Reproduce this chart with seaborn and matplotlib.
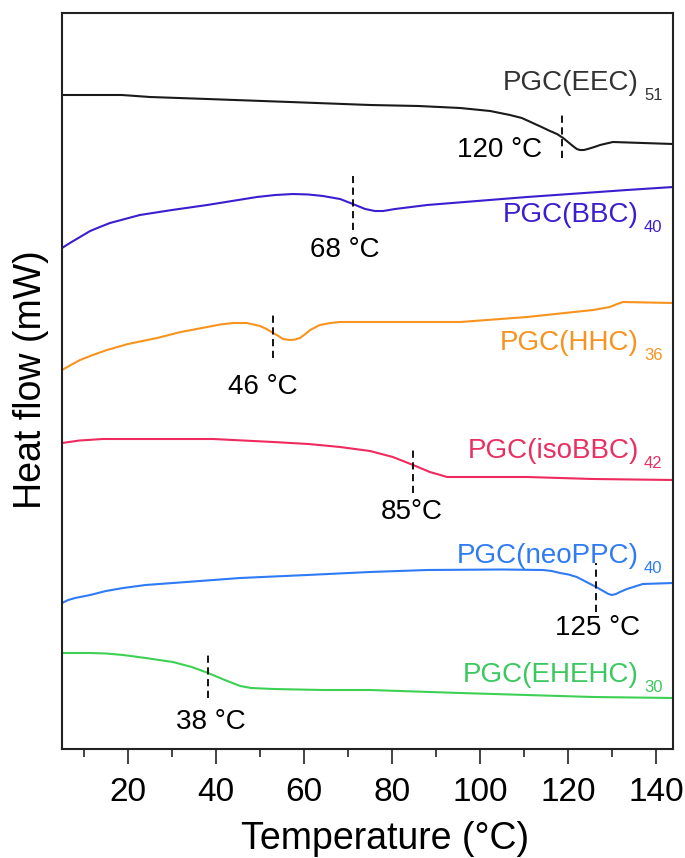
import numpy as np
import pandas as pd
import matplotlib
matplotlib.use("Agg")
import matplotlib.pyplot as plt
import seaborn as sns

# ---------------- data ----------------
names = ["PGC(EEC)", "PGC(BBC)", "PGC(HHC)", "PGC(isoBBC)", "PGC(neoPPC)", "PGC(EHEHC)"]
subs = ["51", "40", "36", "42", "40", "30"]
colors = ["#1a1a1a", "#3a1ed0", "#f7931e", "#ee2a5e", "#2f7bf5", "#3dd153"]
text_colors = ["#333333", "#3a1ed0", "#f7931e", "#e83062", "#2f7bf5", "#3cc860"]

eec_T = [5, 18.6, 25, 38, 56.8, 75, 86, 95.5, 102.3, 106.8, 109.5, 112.0, 114.0, 115.9, 117.5, 118.9, 120.0,
         121.1, 122.0, 122.7, 123.6, 124.5, 126.0, 127.3, 130.2, 137.0, 143.9]
eec_H = [6.54, 6.54, 6.52, 6.50, 6.47, 6.44, 6.43, 6.41, 6.38, 6.34, 6.31, 6.26, 6.22, 6.18, 6.15, 6.11, 6.07,
         6.03, 6.00, 5.99, 5.99, 6.00, 6.02, 6.04, 6.07, 6.06, 6.05]

bbc_T = [5, 6.8, 9.1, 11.4, 13.6, 15.9, 19.3, 22.7, 30, 38, 49.3, 53.5, 57.5, 61, 64.3, 68.2, 71.1, 73.9,
         76.1, 78.0, 80.7, 88.0, 110.7, 133.4, 143.9]
bbc_H = [5.01, 5.06, 5.12, 5.18, 5.22, 5.26, 5.30, 5.34, 5.39, 5.44, 5.52, 5.54, 5.55, 5.545, 5.53, 5.50, 5.45,
         5.40, 5.38, 5.38, 5.40, 5.44, 5.52, 5.59, 5.62]

hhc_T = [5, 7.0, 9.1, 12, 15.2, 20, 26.6, 32, 38, 41, 43.9, 47.0, 50.0, 51.5, 53.0, 54.2, 55.2, 56.8, 58.0,
         59.1, 60.3, 61.4, 63.6, 66, 68.2, 75, 95.5, 110.7, 125.7, 129.5, 131.2, 132.5, 143.9]
hhc_H = [3.79, 3.84, 3.89, 3.94, 3.99, 4.05, 4.11, 4.17, 4.22, 4.245, 4.26, 4.26, 4.23, 4.20, 4.16, 4.13, 4.10,
         4.09, 4.095, 4.11, 4.15, 4.19, 4.24, 4.26, 4.27, 4.27, 4.27, 4.32, 4.39, 4.42, 4.45, 4.47, 4.46]

iso_T = [5, 9, 14.3, 25, 39.3, 53.0, 61, 68.2, 75, 80.2, 84.8, 88.6, 91, 92.5, 95, 110.7, 125.7, 143.9]
iso_H = [3.06, 3.085, 3.10, 3.10, 3.10, 3.07, 3.05, 3.02, 2.98, 2.92, 2.84, 2.77, 2.74, 2.72, 2.72, 2.72, 2.70, 2.69]

neo_T = [5, 6.4, 8.0, 9.7, 11.4, 15, 18.9, 24, 30.2, 45.5, 60.7, 75, 88.0, 105, 114.3, 116.3, 118.2, 120.1,
         122.0, 124.2, 126.4, 128.4, 129.2, 130.0, 130.9, 131.8, 133.4, 137.0, 143.9]
neo_H = [1.46, 1.49, 1.51, 1.525, 1.54, 1.58, 1.61, 1.64, 1.66, 1.71, 1.74, 1.77, 1.79, 1.795, 1.79, 1.78, 1.76,
         1.745, 1.72, 1.67, 1.62, 1.57, 1.55, 1.54, 1.55, 1.57, 1.60, 1.65, 1.66]

ehe_T = [5, 11.4, 15, 18.9, 24, 30.2, 34.5, 38.2, 42.0, 45.5, 48, 53.0, 64.3, 75, 95.5, 125.7, 143.9]
ehe_H = [0.96, 0.96, 0.955, 0.94, 0.91, 0.87, 0.82, 0.76, 0.69, 0.63, 0.61, 0.60, 0.59, 0.59, 0.56, 0.52, 0.51]

# transition markers: temperature of dashed line, its extent, and annotation text
mark_T = [118.6, 71.1, 53.0, 84.8, 126.4, 38.2]
mark_lo = [5.91, 5.19, 3.91, 2.56, 1.37, 0.51]
mark_hi = [6.36, 5.73, 4.36, 3.02, 1.86, 0.97]
mark_text = ["120 °C", "68 °C", "46 °C", "85°C", "125 °C", "38 °C"]

series_T = [eec_T, bbc_T, hhc_T, iso_T, neo_T, ehe_T]
series_H = [eec_H, bbc_H, hhc_H, iso_H, neo_H, ehe_H]

# ---------------- figure ----------------
sns.set_theme(style="white")
plt.rcParams["font.family"] = ["Liberation Sans", "DejaVu Sans"]

W, H = 685, 858
fig = plt.figure(figsize=(W / 100, H / 100), dpi=100)
ax = fig.add_axes([62 / W, (H - 749) / H, 611 / W, 736 / H])

frames = []
for n, t, h in zip(names, series_T, series_H):
    frames.append(pd.DataFrame({"T": t, "HF": h, "sample": n}))
df = pd.concat(frames, ignore_index=True)

sns.lineplot(data=df, x="T", y="HF", hue="sample", palette=dict(zip(names, colors)),
             estimator=None, sort=False, legend=False, linewidth=1.5, ax=ax)

XMIN, XMAX = 5, 5 + 611 / 4.4
ax.set_xlim(XMIN, XMAX)
ax.set_ylim(0, 7.36)

def px_T(px):
    return XMIN + (px - 62) / 4.4

def py_H(py):
    return (749 - py) / 100

# dashed transition markers
for t, lo, hi in zip(mark_T, mark_lo, mark_hi):
    ax.plot([t, t], [lo, hi], color="black", linestyle=(0, (4, 2.5)), linewidth=1.3)

# annotation text positions (pixel centres)
ann_pos = [(500, 150), (345, 250), (263, 387), (412, 512), (598, 628), (211, 722)]
for (px, py), s in zip(ann_pos, mark_text):
    ax.text(px_T(px), py_H(py), s, ha="center", va="center", fontsize=20, color="black")

# series labels
base_py = [90, 222, 350, 458, 563, 682]
for n, sb, c, by in zip(names, subs, text_colors, base_py):
    ax.text(px_T(639), py_H(by), n, ha="right", va="baseline", fontsize=20, color=c)
    ax.text(px_T(644), py_H(by + 10), sb, ha="left", va="baseline", fontsize=12, color=c)

# axes styling
ax.set_yticks([])
ax.set_xticks([20, 40, 60, 80, 100, 120, 140])
ax.set_xticks([10, 30, 50, 70, 90, 110, 130], minor=True)
ax.tick_params(axis="x", which="major", direction="out", length=11, width=1.2,
               labelsize=24, pad=9, bottom=True, color="#222222", labelcolor="black")
ax.tick_params(axis="x", which="minor", direction="out", length=6, width=1.2,
               bottom=True, color="#222222")
for sp in ax.spines.values():
    sp.set_visible(True)
    sp.set_linewidth(1.5)
    sp.set_color("#222222")

ax.set_xlabel("Temperature (°C)", fontsize=27, color="black")
ax.set_ylabel("Heat flow (mW)", fontsize=27, color="black")
ax.xaxis.label.set_va("center")
ax.xaxis.set_label_coords((385 - 62) / 611, (749 - 839) / 736)
ax.yaxis.label.set_va("center")
ax.yaxis.set_label_coords((31 - 62) / 611, (749 - 380) / 736)

fig.savefig("out.png", dpi=100)
